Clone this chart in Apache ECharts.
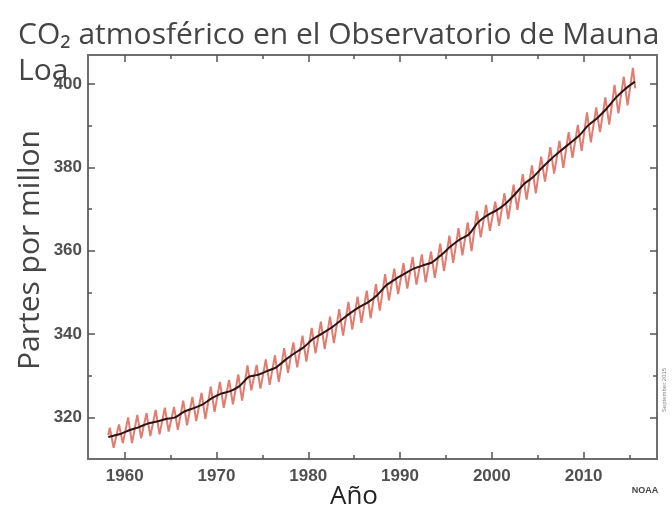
<!DOCTYPE html>
<html><head><meta charset="utf-8">
<script src="https://cdn.jsdelivr.net/npm/echarts@6/dist/echarts.min.js"></script>
<style>html,body{margin:0;padding:0;background:#fff}#c{width:672px;height:513px}</style>
</head><body><div id="c"></div>
<script>
// ---- data ----
const years = [1958,1959,1960,1961,1962,1963,1964,1965,1966,1967,1968,1969,1970,1971,1972,1973,1974,1975,1976,1977,1978,1979,1980,1981,1982,1983,1984,1985,1986,1987,1988,1989,1990,1991,1992,1993,1994,1995,1996,1997,1998,1999,2000,2001,2002,2003,2004,2005,2006,2007,2008,2009,2010,2011,2012,2013,2014,2015];
const annualMean = [315.3,316.0,316.9,317.6,318.5,319.0,319.6,320.0,321.4,322.2,323.1,324.6,325.7,326.3,327.5,329.7,330.2,331.1,332.0,333.8,335.4,336.8,338.8,340.1,341.5,343.2,344.9,346.4,347.6,349.3,351.7,353.2,354.5,355.7,356.5,357.2,359.0,361.0,362.7,363.9,366.8,368.5,369.7,371.3,373.5,376.0,377.7,380.0,382.1,384.0,385.8,387.6,390.1,391.9,394.1,396.7,398.8,400.6];
const mayPeak = [317.5,318.3,320.0,320.6,321.0,321.8,322.3,322.5,324.0,324.9,325.9,327.4,328.5,329.0,330.3,332.5,332.6,333.9,334.9,336.6,338.0,339.6,341.5,343.0,344.2,346.0,347.7,349.0,350.4,352.0,354.4,355.7,357.0,358.5,359.1,359.8,361.7,363.6,365.4,366.8,369.5,371.0,371.8,373.8,375.9,378.4,380.5,382.6,384.9,386.4,388.5,390.2,393.2,394.4,396.8,399.8,401.8,403.9];
const octTrough = [312.7,313.8,313.8,315.0,315.5,315.9,316.6,317.0,318.1,319.1,319.6,321.3,322.3,323.1,324.0,326.5,326.9,327.8,328.5,330.7,332.0,333.4,335.4,336.4,337.8,339.6,341.1,342.7,343.8,345.6,348.1,349.6,350.9,351.9,352.4,353.5,355.1,357.1,358.9,359.9,363.2,364.8,366.0,367.6,369.8,372.3,373.8,376.6,378.5,379.9,382.3,384.0,386.0,388.5,390.3,393.0,394.9,399.0];
const firstMonth = [1958.21, 315.7];   // first monthly value (March 1958)
const peakMonth = 5, troughMonth = 10, lastMonthOf2015 = 8;
const xTickLabels = [1960,1970,1980,1990,2000,2010];
const xMinorTicks = [1965,1975,1985,1995,2005,2015];
const yTickLabels = [320,340,360,380,400];
const yMinorTicks = [330,350,370,390];

// ---- build series ----
const redData = [firstMonth];
years.forEach((y,i)=>{
  redData.push([y + (peakMonth-0.5)/12, mayPeak[i]]);
  const tm = (y === 2015) ? lastMonthOf2015 : troughMonth;
  redData.push([y + (tm-0.5)/12, octTrough[i]]);
});
const blackData = [[firstMonth[0], annualMean[0]]];
years.forEach((y,i)=>{ if (i>0 && i<years.length-1) blackData.push([y+0.5, annualMean[i]]); });
blackData.push([2015.6, annualMean[annualMean.length-1]]);

const X0=1956, X1=2018, Y0=310, Y1=407;
const lineCol = '#6e6e6e', tickCol = '#555';
const lblFont = {color:'#505050', fontSize:17, fontFamily:'Liberation Sans', fontWeight:'bold', formatter:v=>String(v)};
function xa(pos, ticks, len, labels){
  return {type:'value', min:X0, max:X1, position:pos, gridIndex:0,
    axisLine:{show:true, onZero:false, lineStyle:{color:lineCol, width:2}},
    axisTick:{show:true, inside:true, length:len, customValues:ticks, lineStyle:{color:tickCol, width:1.5}},
    axisLabel:labels ? Object.assign({show:true, customValues:labels, margin:9}, lblFont) : {show:false},
    splitLine:{show:false}};
}
function ya(pos, ticks, len, labels){
  return {type:'value', min:Y0, max:Y1, position:pos, gridIndex:0,
    axisLine:{show:true, onZero:false, lineStyle:{color:lineCol, width:2}},
    axisTick:{show:true, inside:true, length:len, customValues:ticks, lineStyle:{color:tickCol, width:1.5}},
    axisLabel:labels ? Object.assign({show:true, customValues:labels, margin:6}, lblFont) : {show:false},
    splitLine:{show:false}};
}

const chart = echarts.init(document.getElementById('c'), null, {renderer:'canvas'});
chart.setOption({
  backgroundColor:'#fff',
  animation:false,
  grid:{left:88, right:15, top:55, bottom:54, containLabel:false},
  xAxis:[xa('bottom', xTickLabels, 7, xTickLabels), xa('bottom', xMinorTicks, 4, null),
         xa('top', xTickLabels, 7, null), xa('top', xMinorTicks, 4, null)],
  yAxis:[ya('left', yTickLabels, 7, yTickLabels), ya('left', yMinorTicks, 4, null),
         ya('right', yTickLabels, 7, null), ya('right', yMinorTicks, 4, null)],
  series:[
    {type:'line', xAxisIndex:0, yAxisIndex:0, data:redData, showSymbol:false, symbol:'none',
     lineStyle:{color:'#e27b70', width:2}, z:2},
    {type:'line', xAxisIndex:0, yAxisIndex:0, data:blackData, showSymbol:false, symbol:'none', smooth:0.2,
     lineStyle:{color:'#2a1414', width:2}, z:3}
  ],
  graphic:[
    {type:'text', x:18, y:20, z:10, style:{text:'CO₂ atmosférico en el Observatorio de Mauna', fill:'#454545', font:'30px "Open Sans"'}},
    {type:'text', x:18, y:56, z:10, style:{text:'Loa', fill:'#454545', font:'30px "Open Sans"'}},
    {type:'text', x:30, y:250, rotation:Math.PI/2, style:{text:'Partes por millon', fill:'#454545', font:'30px "Open Sans"', align:'center', verticalAlign:'middle'}},
    {type:'text', x:354, y:497, style:{text:'Año', fill:'#222', font:'26px "Open Sans"', align:'center', verticalAlign:'middle'}},
    {type:'text', x:645, y:491, style:{text:'NOAA', fill:'#444', font:'bold 9px "Liberation Sans"', align:'center', verticalAlign:'middle'}},
    {type:'text', x:664, y:390, rotation:Math.PI/2, style:{text:'September 2015', fill:'#888', font:'6px "Liberation Sans"', align:'center', verticalAlign:'middle'}}
  ]
});
</script></body></html>
